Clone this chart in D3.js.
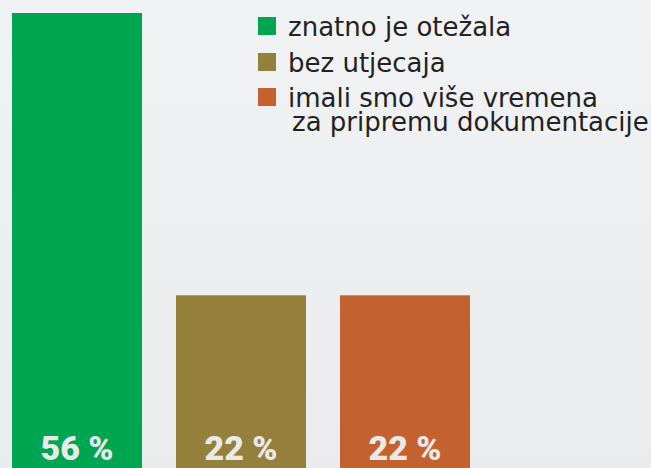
<!DOCTYPE html>
<html>
<head>
<meta charset="utf-8">
<script src="https://cdn.jsdelivr.net/npm/d3@7"></script>
<style>
  html, body { margin: 0; padding: 0; }
  body { width: 651px; height: 468px; overflow: hidden; }
</style>
</head>
<body>
<div id="chart"></div>
<script>
// Chart data
var categories = ["znatno je otežala", "bez utjecaja", "imali smo više vremena za pripremu dokumentacije"];
var values = [56, 22, 22];
var valueLabels = ["56 %", "22 %", "22 %"];
var legendLines = [["znatno je otežala"], ["bez utjecaja"], ["imali smo više vremena", "za pripremu dokumentacije"]];

var colors = ["#00a550", "#947f3b", "#c4622f"];

var svgWidth = 651, svgHeight = 468;

var svg = d3.select("#chart")
  .append("svg")
  .attr("width", svgWidth)
  .attr("height", svgHeight);

// background gradient
var defs = svg.append("defs");
var grad = defs.append("linearGradient")
  .attr("id", "bg").attr("x1", 0).attr("y1", 0).attr("x2", 0).attr("y2", 1);
grad.append("stop").attr("offset", "0%").attr("stop-color", "#f1f2f4");
grad.append("stop").attr("offset", "100%").attr("stop-color", "#eaebec");

svg.append("rect")
  .attr("width", svgWidth).attr("height", svgHeight)
  .attr("fill", "url(#bg)");

// scales (baseline sits just below the visible area)
var x = d3.scaleBand()
  .domain(categories)
  .range([12, 470])
  .paddingInner(34 / 164)
  .paddingOuter(0);

var y = d3.scaleLinear()
  .domain([0, d3.max(values)])
  .range([478, 13]);

// bars
svg.selectAll("rect.bar")
  .data(values)
  .enter()
  .append("rect")
  .attr("class", "bar")
  .attr("x", function (d, i) { return x(categories[i]); })
  .attr("y", function (d) { return y(d); })
  .attr("width", x.bandwidth())
  .attr("height", function (d) { return y(0) - y(d); })
  .attr("fill", function (d, i) { return colors[i]; });

// value labels
svg.selectAll("text.val")
  .data(valueLabels)
  .enter()
  .append("text")
  .attr("class", "val")
  .attr("x", function (d, i) { return x(categories[i]) + x.bandwidth() / 2; })
  .attr("y", 460)
  .attr("text-anchor", "middle")
  .attr("font-family", "Roboto, sans-serif")
  .attr("font-weight", "900")
  .attr("font-size", "34px")
  .attr("fill", "#e9e9e9")
  .text(function (d) { return d; });

// legend
var legendY = [36, 72, 107];
var legend = svg.append("g").attr("class", "legend");

legendLines.forEach(function (lines, i) {
  legend.append("rect")
    .attr("x", 258)
    .attr("y", legendY[i] - 19)
    .attr("width", 18)
    .attr("height", 18)
    .attr("fill", colors[i]);

  lines.forEach(function (line, j) {
    legend.append("text")
      .attr("x", j === 0 ? 288 : 292)
      .attr("y", legendY[i] + j * 24)
      .attr("font-family", "'DejaVu Sans', sans-serif")
      .attr("font-size", "26px")
      .attr("fill", "#222")
      .text(line);
  });
});
</script>
</body>
</html>
